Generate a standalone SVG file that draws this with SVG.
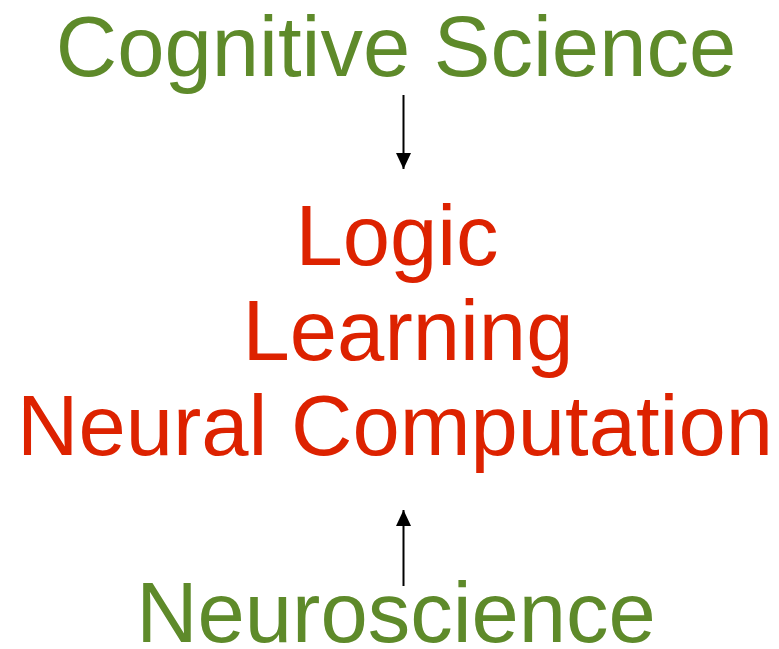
<svg xmlns="http://www.w3.org/2000/svg" width="779" height="649" viewBox="0 0 779 649">
  <style>
    .lbl { font-family: "Liberation Sans", Arial, sans-serif; font-size: 85px; text-anchor: middle; }
    .outer { fill: #5E8A2A; }
    .core { fill: #DD2200; }
    .edge { stroke: #000; stroke-width: 2; fill: none; }
  </style>
  <defs>
    <marker id="arrowhead" viewBox="0 0 16 15" refX="16" refY="7.5" markerWidth="16" markerHeight="15" markerUnits="userSpaceOnUse" orient="auto">
      <path d="M0,0 L16,7.5 L0,15 Z" fill="#000"/>
    </marker>
  </defs>
  <rect width="779" height="649" fill="#fff"/>
  <g id="cognitive-science">
    <text class="lbl outer" x="396" y="76">Cognitive Science</text>
  </g>
  <g id="core-topics">
    <text class="lbl core" x="397" y="265">Logic</text>
    <text class="lbl core" x="408" y="360">Learning</text>
    <text class="lbl core" x="395" y="455">Neural Computation</text>
  </g>
  <g id="neuroscience">
    <text class="lbl outer" x="396" y="642">Neuroscience</text>
  </g>
  <g id="connectors">
    <line class="edge" x1="403.5" y1="95" x2="403.5" y2="169" marker-end="url(#arrowhead)"/>
    <line class="edge" x1="403.5" y1="586" x2="403.5" y2="510" marker-end="url(#arrowhead)"/>
  </g>
</svg>
